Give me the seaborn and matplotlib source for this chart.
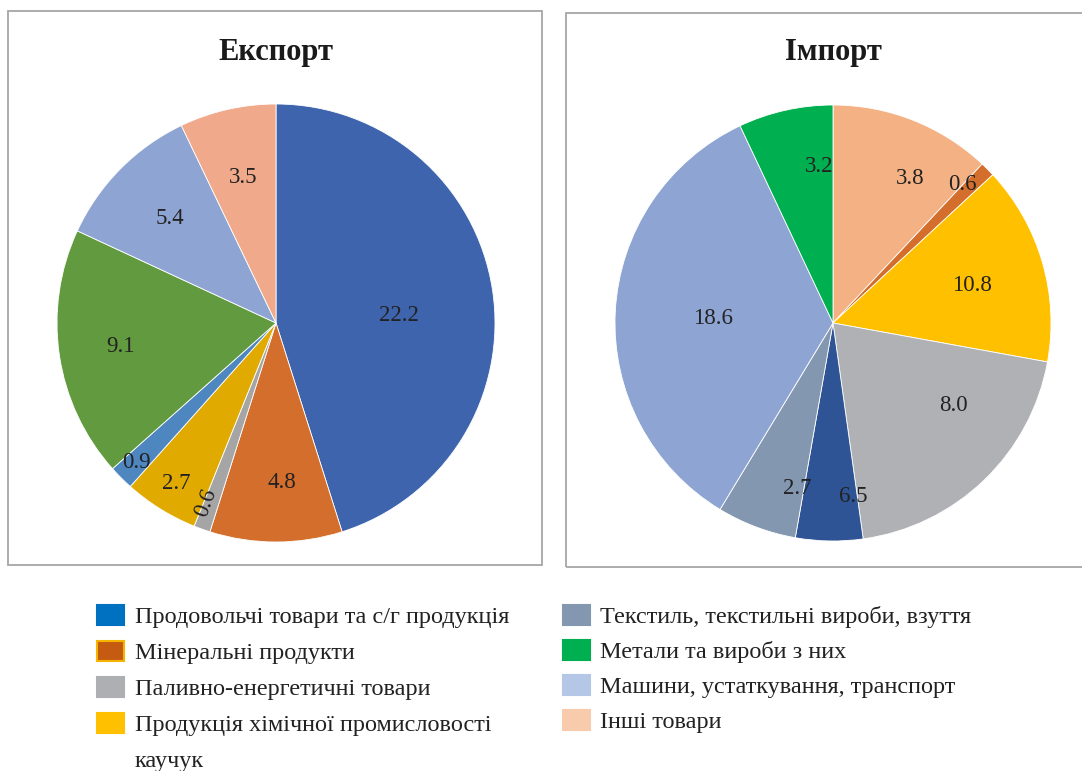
import matplotlib
matplotlib.use("Agg")
import matplotlib.pyplot as plt
from matplotlib.patches import Rectangle
import seaborn as sns
import numpy as np

# Експорт: slices clockwise from 12 o'clock
export_values = [22.2, 4.8, 0.6, 2.7, 0.9, 9.1, 5.4, 3.5]
export_labels = ["22.2", "4.8", "0.6", "2.7", "0.9", "9.1", "5.4", "3.5"]

# Імпорт: slice sizes as drawn, and the numbers printed on them (they don't match in the source)
import_values = [6.5, 0.6, 8.0, 10.8, 2.7, 3.2, 18.6, 3.8]
import_labels = ["3.8", "0.6", "10.8", "8.0", "6.5", "2.7", "18.6", "3.2"]

legend_left = ["Продовольчі товари та с/г продукція",
               "Мінеральні продукти",
               "Паливно-енергетичні товари",
               "Продукція хімічної промисловості\nкаучук"]
legend_right = ["Текстиль, текстильні вироби, взуття",
                "Метали та вироби з них",
                "Машини, устаткування, транспорт",
                "Інші товари"]

sns.set_style("white")
plt.rcParams['font.family'] = ['Liberation Serif', 'DejaVu Serif']

export_colors = sns.color_palette(["#3E64AD", "#D36E2D", "#A5A5A5", "#E0AA00",
                                   "#4E87C0", "#629A3F", "#8EA4D2", "#F0A98A"])
import_colors = sns.color_palette(["#F3B184", "#D46E2C", "#FFC000", "#B0B1B4",
                                   "#2F5496", "#8497B0", "#8EA4D3", "#00B050"])
left_colors = ["#0070C0", "#C55A11", "#ADAFB2", "#FFC000"]
right_colors = ["#8497B0", "#00B050", "#B4C7E7", "#F8CBAD"]

W, H = 1082, 771
fig = plt.figure(figsize=(W / 100, H / 100), dpi=100)
fig.patch.set_facecolor("white")

# frames around the two charts
fig.add_artist(Rectangle((8 / W, (H - 565) / H), 534 / W, 554 / H, transform=fig.transFigure,
                         fill=False, edgecolor="#A6A6A6", lw=1.3))
fig.add_artist(Rectangle((566 / W, (H - 567) / H), 530 / W, 554 / H, transform=fig.transFigure,
                         fill=False, edgecolor="#A6A6A6", lw=1.3))


def pie_axes(cx, cy, r):
    return fig.add_axes([(cx - r) / W, (H - cy - r) / H, 2 * r / W, 2 * r / H])


def draw_pie(ax, values, colors, labels, dist, shift, rot=None):
    wedges, _ = ax.pie(values, colors=colors, startangle=90, counterclock=False, radius=1,
                       wedgeprops=dict(edgecolor="white", linewidth=0.6))
    ax.set_xlim(-1, 1)
    ax.set_ylim(-1, 1)
    ax.set_aspect("equal")
    ax.axis("off")
    for i, w in enumerate(wedges):
        # label at mid-angle of the wedge, nudged clockwise by shift[i] degrees
        a = np.deg2rad((w.theta1 + w.theta2) / 2 - shift[i])
        r = dist[i]
        ax.text(r * np.cos(a), r * np.sin(a), labels[i], ha="center", va="center",
                fontsize=16.5, color="#222222",
                rotation=(rot or {}).get(i, 0), rotation_mode="anchor")


ax1 = pie_axes(276, 323, 219)
draw_pie(ax1, export_values, export_colors, export_labels,
         [0.56, 0.73, 0.88, 0.86, 0.90, 0.72, 0.68, 0.68],
         [5.5, -2, 1.7, 0, 0, 0, 0, 0], rot={2: 70})

ax2 = pie_axes(833, 323, 218)
draw_pie(ax2, import_values, import_colors, import_labels,
         [0.75, 0.87, 0.66, 0.67, 0.80, 0.775, 0.55, 0.72],
         [6.6, -2, 1, -12, -7.6, -8.4, -1, 7.6])

fig.text(276 / W, 1 - 60 / H, "Експорт", ha="center", va="baseline",
         fontsize=22, fontweight="bold", color="#1a1a1a")
fig.text(833 / W, 1 - 60 / H, "Імпорт", ha="center", va="baseline",
         fontsize=22, fontweight="bold", color="#1a1a1a")

# legend, two columns
def legend_column(names, colors, x_patch, x_text, step, edge=None):
    for i, (name, c) in enumerate(zip(names, colors)):
        base = 623 + step * i
        ec = (edge or {}).get(i, c)
        fig.add_artist(Rectangle((x_patch / W, (H - base - 2) / H), 27 / W, 20 / H,
                                 transform=fig.transFigure, facecolor=c, edgecolor=ec, lw=1.5))
        for k, line in enumerate(name.split("\n")):
            fig.text(x_text / W, 1 - (base + 36 * k) / H, line, ha="left", va="baseline",
                     fontsize=17.5, color="#222222")


legend_column(legend_left, left_colors, 97, 135, 36, edge={1: "#F4B400"})
legend_column(legend_right, right_colors, 563, 600, 35)

fig.savefig("out.png", dpi=100, facecolor="white")
